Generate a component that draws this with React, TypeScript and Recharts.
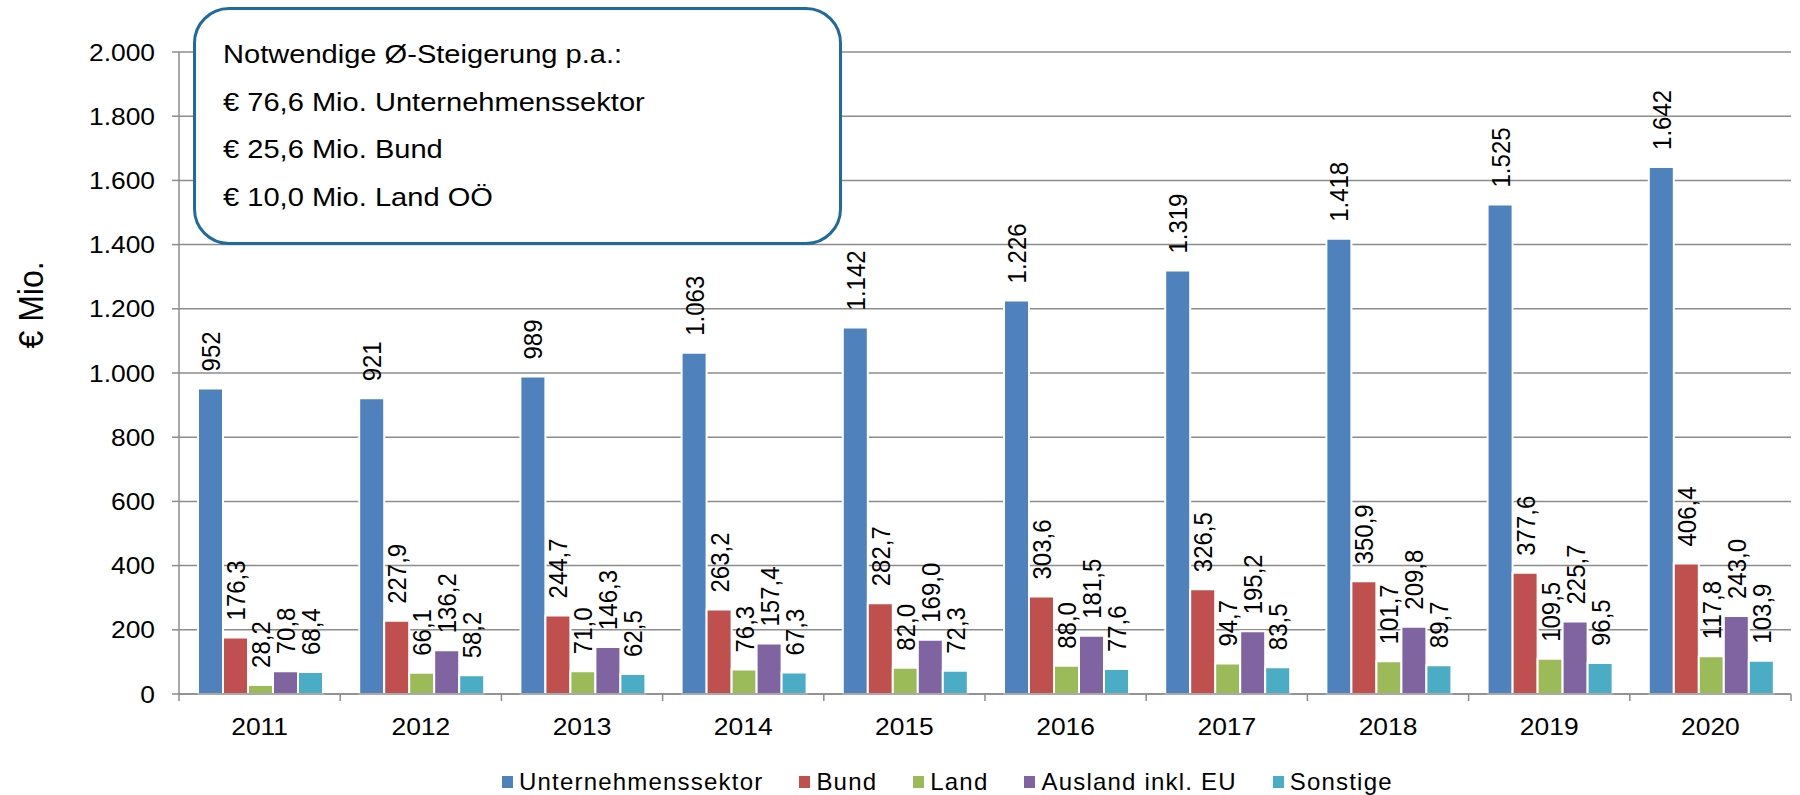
import { BarChart, Bar, XAxis, YAxis, CartesianGrid, Legend, LabelList } from 'recharts'

// values, € Mio.
const years = ['2011', '2012', '2013', '2014', '2015', '2016', '2017', '2018', '2019', '2020']
const unternehmen = [952, 921, 989, 1063, 1142, 1226, 1319, 1418, 1525, 1642]
const bund = [176.3, 227.9, 244.7, 263.2, 282.7, 303.6, 326.5, 350.9, 377.6, 406.4]
const land = [28.2, 66.1, 71.0, 76.3, 82.0, 88.0, 94.7, 101.7, 109.5, 117.8]
const ausland = [70.8, 136.2, 146.3, 157.4, 169.0, 181.5, 195.2, 209.8, 225.7, 243.0]
const sonstige = [68.4, 58.2, 62.5, 67.3, 72.3, 77.6, 83.5, 89.7, 96.5, 103.9]
const yTicks = [0, 200, 400, 600, 800, 1000, 1200, 1400, 1600, 1800, 2000]

const boxLines = [
  'Notwendige Ø-Steigerung p.a.:',
  '€ 76,6 Mio. Unternehmenssektor',
  '€ 25,6 Mio. Bund',
  '€ 10,0 Mio. Land OÖ',
]

const FONT = '"Liberation Sans", Arial, sans-serif'
const STRETCH = 1.1
const GRID = '#8c8c8c'

const thousands = (v: number) => String(Math.round(v)).replace(/\B(?=(\d{3})+(?!\d))/g, '.')
const decimal = (v: number) => v.toFixed(1).replace('.', ',')

const series = [
  { key: 'u', name: 'Unternehmenssektor', color: '#4F81BD', values: unternehmen, fmt: thousands },
  { key: 'b', name: 'Bund', color: '#C0504D', values: bund, fmt: decimal },
  { key: 'l', name: 'Land', color: '#9BBB59', values: land, fmt: decimal },
  { key: 'a', name: 'Ausland inkl. EU', color: '#8064A2', values: ausland, fmt: decimal },
  { key: 's', name: 'Sonstige', color: '#4BACC6', values: sonstige, fmt: decimal },
]

const data = years.map((year, i) => {
  const row: Record<string, string | number> = { year }
  series.forEach(s => { row[s.key] = s.values[i] })
  return row
})

const barLabel = (fmt: (v: number) => string) => (props: any) => {
  const { x, y, width, value } = props
  const cx = Number(x) + Number(width) / 2
  return (
    <text
      transform={`translate(${cx},${Number(y) - 17}) scale(${STRETCH},1) rotate(-90)`}
      x={0}
      y={8.6}
      fontSize={24}
      fontFamily={FONT}
      fill="#000"
    >
      {fmt(Number(value))}
    </text>
  )
}

const YTick = (props: any) => {
  const { x, y, payload } = props
  return (
    <text
      transform={`translate(${x},${y}) scale(${STRETCH},1)`}
      x={0}
      y={8.5}
      textAnchor="end"
      fontSize={24}
      fontFamily={FONT}
      fill="#000"
    >
      {thousands(payload.value)}
    </text>
  )
}

const XTick = (props: any) => {
  const { x, y, payload, index, visibleTicksCount } = props
  const half = payload.offset > 10 ? payload.offset : 1612 / years.length / 2
  const last = index === visibleTicksCount - 1
  return (
    <g>
      <line x1={x - half} x2={x - half} y1={y} y2={y + 7} stroke={GRID} strokeWidth={1.5} />
      {last && <line x1={x + half} x2={x + half} y1={y} y2={y + 7} stroke={GRID} strokeWidth={1.5} />}
      <text
        transform={`translate(${x},${y + 41}) scale(${STRETCH},1)`}
        x={0}
        y={0}
        textAnchor="middle"
        fontSize={24}
        fontFamily={FONT}
        fill="#000"
      >
        {payload.value}
      </text>
    </g>
  )
}

const renderLegend = () => (
  <div style={{ display: 'flex', alignItems: 'center', height: 26, paddingLeft: 502, fontSize: 24, letterSpacing: 1.2, fontFamily: FONT, color: '#000' }}>
    {series.map(s => (
      <div key={s.key} style={{ display: 'flex', alignItems: 'center', marginRight: 36 }}>
        <span style={{ display: 'inline-block', width: 11, height: 12, background: s.color, marginRight: 6 }} />
        <span style={{ lineHeight: '26px', whiteSpace: 'nowrap' }}>{s.name}</span>
      </div>
    ))}
  </div>
)

export default function App() {
  return (
    <div style={{ position: 'absolute', left: 0, top: 0, width: 1800, height: 795, background: '#fff', fontFamily: FONT }}>
      <BarChart
        width={1800}
        height={795}
        data={data}
        margin={{ top: 52, right: 9, bottom: 0, left: 0 }}
        barCategoryGap={19}
        barGap={0}
      >
        <CartesianGrid vertical={false} stroke={GRID} strokeWidth={1.5} />
        <XAxis
          dataKey="year"
          height={75}
          axisLine={{ stroke: GRID, strokeWidth: 1.5 }}
          tickLine={false}
          tickSize={0}
          tickMargin={0}
          tick={<XTick />}
          interval={0}
        />
        <YAxis
          type="number"
          domain={[0, 2000]}
          ticks={yTicks}
          width={179}
          axisLine={{ stroke: GRID, strokeWidth: 1.5 }}
          tickLine={{ stroke: GRID, strokeWidth: 1.5 }}
          tickSize={7}
          tickMargin={17}
          tick={<YTick />}
          interval={0}
        />
        <Legend verticalAlign="bottom" content={renderLegend} wrapperStyle={{ height: 26 }} />
        {series.map(s => (
          <Bar key={s.key} dataKey={s.key} name={s.name} fill={s.color} stroke="#fff" strokeWidth={2} isAnimationActive={false}>
            <LabelList dataKey={s.key} content={barLabel(s.fmt)} />
          </Bar>
        ))}
        <text
          transform={`translate(43,305) scale(${STRETCH},1) rotate(-90)`}
          x={0}
          y={0}
          textAnchor="middle"
          fontSize={32}
          fontFamily={FONT}
          fill="#000"
        >
          € Mio.
        </text>
      </BarChart>

      <div
        style={{
          position: 'absolute',
          left: 193,
          top: 7,
          width: 649,
          height: 238,
          boxSizing: 'border-box',
          border: '3.5px solid #1F6B9E',
          borderRadius: 36,
          background: '#fff',
          paddingTop: 21,
          paddingLeft: 27,
          color: '#000',
        }}
      >
        {boxLines.map(line => (
          <div
            key={line}
            style={{ fontSize: 25.5, lineHeight: '47.5px', whiteSpace: 'nowrap', transform: 'scaleX(1.14)', transformOrigin: 'left center' }}
          >
            {line}
          </div>
        ))}
      </div>
    </div>
  )
}
